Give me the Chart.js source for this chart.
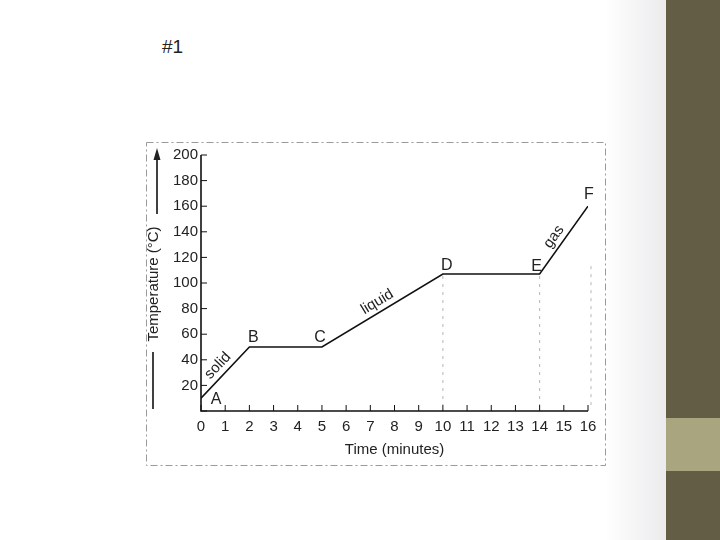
<!DOCTYPE html>
<html>
<head>
<meta charset="utf-8">
<script src="https://cdn.jsdelivr.net/npm/chart.js@4"></script>
<style>
  html, body { margin: 0; padding: 0; }
  body {
    width: 720px; height: 540px; position: relative; overflow: hidden;
    background: linear-gradient(to right, #ffffff 0%, #ffffff 84%, #ebebed 92.5%);
    font-family: "Liberation Sans", Arial, sans-serif;
  }
  .strip { position: absolute; left: 666px; top: 0; width: 54px; height: 540px; background: #645d46; }
  .band { position: absolute; left: 666px; top: 418px; width: 54px; height: 53px; background: #a9a67f; }
  .num { position: absolute; left: 162px; top: 36px; font-size: 19px; color: #222; }
  canvas { position: absolute; left: 0; top: 0; }
</style>
</head>
<body>
<div class="strip"></div>
<div class="band"></div>
<div class="num">#1</div>
<canvas id="chart" width="720" height="540"></canvas>
<script>
// heating curve
const times = [0, 2, 5, 10, 14, 16];          // minutes
const temps = [10, 50, 50, 107, 107, 160];    // deg C
const pointNames = ["A", "B", "C", "D", "E", "F"];
// phase label sits on the segment starting at this point index
const phaseNames = ["solid", "liquid", "gas"];
const phaseSegments = [0, 2, 4];
const guideTimes = [10, 14, 16];              // faint dashed drop lines in the scan

const ink = "#222";
const font = "15px 'Liberation Sans', Arial, sans-serif";

// label nudges (pixels) relative to each point
const nameOffsets = [[15, 1], [4, -9], [-2, -9], [4, -8], [-3, -7], [1, -12]];

const decorPlugin = {
  id: "decor",
  afterDraw(chart) {
    const ctx = chart.ctx;
    const xs = chart.scales.x, ys = chart.scales.y;
    const area = chart.chartArea;
    ctx.save();

    // scanned frame
    ctx.strokeStyle = "#9a9a9a";
    ctx.lineWidth = 1;
    ctx.setLineDash([7, 3, 2, 3]);
    ctx.strokeRect(146.5, 142.5, 459, 323);

    // faint drop guides
    ctx.strokeStyle = "#b5b5b5";
    ctx.setLineDash([3, 5]);
    guideTimes.forEach((t, i) => {
      const idx = times.indexOf(t);
      const x = xs.getPixelForValue(t) + (i === 2 ? 3 : 0);
      const top = ys.getPixelForValue(temps[idx]) + (i === 2 ? 60 : 2);
      ctx.beginPath(); ctx.moveTo(x, top); ctx.lineTo(x, area.bottom - 6); ctx.stroke();
    });
    ctx.setLineDash([]);

    // axes lines
    ctx.strokeStyle = "#111";
    ctx.lineWidth = 1.6;
    ctx.beginPath();
    ctx.moveTo(area.left, ys.getPixelForValue(200));
    ctx.lineTo(area.left, area.bottom);
    ctx.lineTo(area.right, area.bottom);
    ctx.stroke();

    // inward ticks
    ctx.lineWidth = 1;
    ys.ticks.forEach(t => {
      const y = ys.getPixelForValue(t.value);
      ctx.beginPath(); ctx.moveTo(area.left, y); ctx.lineTo(area.left + 6, y); ctx.stroke();
    });
    xs.ticks.forEach(t => {
      const x = xs.getPixelForValue(t.value);
      ctx.beginPath(); ctx.moveTo(x, area.bottom); ctx.lineTo(x, area.bottom - 6); ctx.stroke();
    });

    // point letters
    ctx.fillStyle = ink;
    ctx.font = "16px 'Liberation Sans', Arial, sans-serif";
    ctx.textAlign = "center";
    ctx.textBaseline = "middle";
    pointNames.forEach((n, i) => {
      const x = xs.getPixelForValue(times[i]) + nameOffsets[i][0];
      const y = ys.getPixelForValue(temps[i]) + nameOffsets[i][1];
      ctx.fillText(n, x, y);
    });

    // phase labels along their segments
    ctx.font = "15px 'Liberation Sans', Arial, sans-serif";
    phaseNames.forEach((name, k) => {
      const i = phaseSegments[k];
      const x0 = xs.getPixelForValue(times[i]), y0 = ys.getPixelForValue(temps[i]);
      const x1 = xs.getPixelForValue(times[i + 1]), y1 = ys.getPixelForValue(temps[i + 1]);
      const ang = Math.atan2(y1 - y0, x1 - x0);
      ctx.save();
      ctx.translate((x0 + x1) / 2, (y0 + y1) / 2);
      ctx.rotate(ang);
      ctx.fillText(name, k === 2 ? -3 : 0, -10);
      ctx.restore();
    });

    // axis titles
    ctx.font = font;
    ctx.fillText("Time (minutes)", (area.left + area.right) / 2, 450);
    ctx.save();
    ctx.translate(154, 284);
    ctx.rotate(-Math.PI / 2);
    ctx.fillText("Temperature (\u00B0C)", 0, 0);
    ctx.restore();

    // arrow above the y title, line below it
    ctx.lineWidth = 1.6;
    ctx.beginPath(); ctx.moveTo(157, 214); ctx.lineTo(157, 154); ctx.stroke();
    ctx.beginPath();
    ctx.moveTo(157, 148); ctx.lineTo(153.5, 160); ctx.lineTo(160.5, 160); ctx.closePath(); ctx.fill();
    ctx.beginPath(); ctx.moveTo(153, 352); ctx.lineTo(153, 409); ctx.stroke();

    ctx.restore();
  }
};

new Chart(document.getElementById("chart"), {
  type: "line",
  data: {
    labels: times,
    datasets: [{
      data: times.map((t, i) => ({ x: t, y: temps[i] })),
      borderColor: "#111",
      borderWidth: 1.6,
      pointRadius: 0,
      tension: 0,
      fill: false
    }]
  },
  options: {
    responsive: false,
    animation: false,
    layout: { padding: { left: 150, right: 132, top: 155, bottom: 99 } },
    plugins: { legend: { display: false }, tooltip: { enabled: false } },
    scales: {
      x: {
        type: "linear", min: 0, max: 16,
        border: { display: false },
        grid: { display: false, drawTicks: false },
        ticks: { stepSize: 1, padding: 7, color: ink, font: { family: "'Liberation Sans', Arial, sans-serif", size: 15 } },
        afterFit(scale) { scale.height = 30; }
      },
      y: {
        min: 0, max: 200,
        border: { display: false },
        grid: { display: false, drawTicks: false },
        ticks: {
          stepSize: 20, padding: 3, color: ink,
          font: { family: "'Liberation Sans', Arial, sans-serif", size: 15 },
          callback: v => (v === 0 ? "" : v)
        },
        afterFit(scale) { scale.width = 51; }
      }
    }
  },
  plugins: [decorPlugin]
});
</script>
</body>
</html>
